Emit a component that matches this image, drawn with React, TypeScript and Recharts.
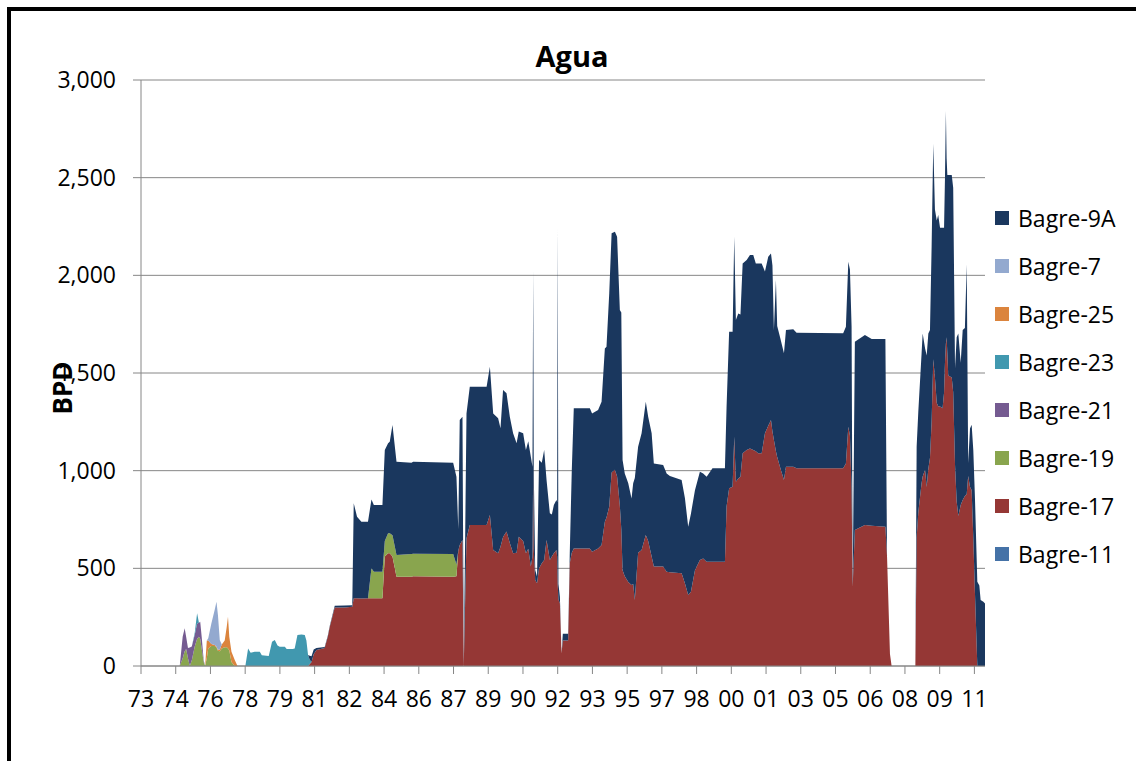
import React from 'react';
import { AreaChart, Area, XAxis, YAxis, CartesianGrid } from 'recharts';

// x values are months counted from Jan 1973 as [month, BPD]
const bagre19: [number, number][] = [
  [21.2, 0], [22.8, 40], [23.9, 75], [24.7, 87], [25.7, 40], [26.7, 0], [27.8, 30], [29.4, 100],
  [30.7, 140], [31.7, 150], [32.4, 140], [33.2, 90], [34.3, 20], [35.1, 0], [36.0, 40], [36.8, 90],
  [38.5, 102], [40.3, 102], [41.3, 95], [42.1, 78], [43.1, 75], [44.2, 90], [45.8, 96], [46.9, 96],
  [47.6, 90], [48.3, 80], [49.5, 20], [51.3, 0], [52.8, 0],
  [124.2, 0], [126.1, 153], [127.4, 136], [132.1, 136], [133.4, 80], [135.2, 102], [136.1, 102],
  [137.6, 110], [139.8, 111], [148.0, 116], [148.9, 115], [170.8, 116], [172.6, 60], [173.6, 0],
];

const bagre21: [number, number][] = [
  [21.2, 0], [22.8, 110], [23.9, 118], [24.7, 63], [25.7, 52], [26.7, 95], [27.8, 70], [29.4, 60],
  [30.7, 78], [31.7, 72], [32.4, 87], [33.2, 60], [34.3, 10], [35.1, 0],
];

const bagre23: [number, number][] = [
  [27.8, 0], [29.4, 10], [30.7, 52], [31.7, 0],
  [57.1, 0], [58.6, 90], [60.0, 68], [62.2, 73], [65.0, 73], [66.1, 55], [69.9, 51], [71.7, 124],
  [73.2, 133], [74.7, 105], [75.9, 99], [78.7, 99], [79.7, 87], [83.0, 87], [84.1, 90], [85.6, 159],
  [87.8, 161], [89.6, 159], [90.5, 130], [91.4, 56], [92.3, 22], [93.3, 0],
];

const bagre25: [number, number][] = [
  [35.1, 0], [36.0, 90], [36.8, 40], [38.5, 10], [40.3, 5], [41.3, 5], [42.1, 5], [43.1, 10],
  [44.2, 20], [45.8, 34], [46.9, 104], [47.6, 162], [48.3, 70], [49.5, 53], [51.3, 31], [52.8, 0],
];

const bagre7: [number, number][] = [
  [36.0, 0], [36.8, 12], [38.5, 106], [40.3, 180], [41.3, 229], [42.1, 178], [43.1, 48], [44.2, 0],
];

const bagre17: [number, number][] = [
  [91.4, 0], [92.3, 10], [93.3, 20], [94.5, 60], [96.0, 82], [100.5, 92], [102.2, 150], [103.3, 201],
  [106.0, 300], [111.5, 300], [115.6, 303], [116.4, 347], [118.2, 347], [120.6, 345], [124.2, 347],
  [126.1, 347], [127.4, 347], [132.1, 347], [133.4, 560], [135.2, 577], [136.1, 577], [137.6, 560],
  [139.8, 457], [148.0, 457], [148.9, 460], [170.8, 457], [172.6, 460], [173.6, 590], [174.4, 620],
  [175.9, 645], [176.6, 0], [178.1, 654], [179.9, 722], [189.1, 722], [190.9, 773], [192.7, 594],
  [195.4, 577], [196.7, 610], [198.1, 660], [200.0, 688], [201.8, 630], [203.6, 577], [205.5, 580],
  [206.7, 662], [209.1, 640], [210.6, 577], [211.9, 600], [213.3, 509], [214.2, 560], [214.6, 1020],
  [214.9, 600], [215.7, 440], [216.7, 423], [217.8, 500], [219.3, 526], [220.6, 543], [221.9, 645],
  [223.7, 543], [224.8, 560], [225.9, 577], [227.3, 594], [227.7, 560], [228.0, 420], [228.4, 340],
  [229.2, 321], [230.1, 65], [230.8, 130], [233.7, 130], [234.1, 300], [234.6, 526], [235.7, 580],
  [236.8, 602], [245.6, 602], [246.8, 585], [250.1, 602], [252.0, 620], [253.8, 739], [254.7, 760],
  [256.2, 816], [257.5, 990], [259.3, 1005], [260.5, 970], [262.0, 820], [262.8, 700], [263.5, 490],
  [264.7, 460], [266.6, 430], [268.4, 415], [269.3, 420], [270.2, 338], [272.0, 580], [273.9, 594],
  [276.2, 671], [277.5, 640], [279.4, 560], [280.6, 509], [285.7, 509], [287.6, 483], [289.4, 480],
  [295.8, 475], [297.6, 423], [299.4, 363], [300.9, 380], [303.1, 490], [305.8, 543], [307.6, 550],
  [309.5, 534], [312.7, 534], [319.5, 534], [320.4, 816], [321.8, 910], [323.7, 918], [324.6, 1174],
  [325.5, 943], [326.8, 960], [328.0, 969], [329.2, 1089], [331.4, 1106], [333.2, 1114], [335.0, 1106],
  [336.4, 1100], [337.7, 1089], [339.6, 1089], [341.4, 1191], [343.2, 1230], [344.7, 1259],
  [345.5, 1200], [346.3, 1157], [347.4, 1100], [348.1, 1070], [349.6, 1020], [351.8, 952],
  [352.9, 1020], [356.9, 1020], [358.7, 1012], [384.2, 1012], [385.7, 1037], [387.0, 1225],
  [387.9, 1180], [388.8, 900], [389.4, 406], [390.6, 696], [396.1, 722], [399.8, 718], [407.3, 713],
  [408.2, 560], [409.8, 61], [410.7, 0], [423.7, 0], [424.4, 655], [425.3, 786], [427.1, 936],
  [427.7, 970], [429.0, 1005], [429.9, 917], [430.8, 1010], [431.7, 1066], [432.6, 1253],
  [433.5, 1571], [434.4, 1477], [435.4, 1347], [436.2, 1330], [437.2, 1328], [438.6, 1319],
  [439.4, 1400], [439.9, 1552], [440.4, 1650], [440.8, 1683], [441.2, 1600], [441.7, 1487],
  [443.6, 1477], [444.4, 1403], [445.4, 1029], [446.3, 842], [447.2, 768], [448.5, 824], [449.6, 850],
  [450.8, 870], [451.8, 880], [452.6, 973], [453.6, 917], [454.5, 900], [455.4, 655], [456.3, 375],
  [457.6, 0], [458.7, 0], [459.4, 0], [460.9, 0], [461.8, 0],
];

const bagre9A: [number, number][] = [
  [91.4, 0], [92.3, 20], [93.3, 30], [94.5, 25], [96.0, 10], [100.5, 5], [102.2, 5], [103.3, 5],
  [106.0, 8], [111.5, 10], [115.6, 8], [116.4, 486], [118.2, 417], [120.6, 394], [124.2, 392],
  [126.1, 353], [127.4, 341], [132.1, 341], [133.4, 466], [135.2, 461], [136.1, 469], [137.6, 564],
  [139.8, 478], [148.0, 468], [148.9, 471], [170.8, 468], [172.6, 449], [173.6, 110], [174.4, 639],
  [175.9, 631], [176.6, 0], [178.1, 639], [179.9, 708], [189.1, 708], [190.9, 759], [192.7, 699],
  [195.4, 691], [196.7, 607], [198.1, 753], [200.0, 708], [201.8, 646], [203.6, 614], [205.5, 560],
  [206.7, 538], [209.1, 551], [210.6, 529], [211.9, 550], [213.3, 562], [214.2, 460], [214.6, 1007],
  [214.9, 400], [215.7, 51], [216.7, 34], [217.8, 554], [219.3, 514], [220.6, 563], [221.9, 307],
  [223.7, 239], [224.8, 215], [225.9, 247], [227.3, 256], [227.7, 280], [228.0, 1820], [228.4, 80],
  [229.2, 34], [230.1, 0], [230.8, 35], [233.7, 35], [234.1, 30], [234.6, 51], [235.7, 420],
  [236.8, 717], [245.6, 717], [246.8, 708], [250.1, 708], [252.0, 733], [253.8, 887], [254.7, 875],
  [256.2, 1092], [257.5, 1225], [259.3, 1218], [260.5, 1228], [262.0, 1002], [262.8, 1110],
  [263.5, 564], [264.7, 526], [266.6, 505], [268.4, 443], [269.3, 515], [270.2, 624], [272.0, 543],
  [273.9, 597], [276.2, 682], [277.5, 636], [279.4, 631], [280.6, 528], [285.7, 520], [287.6, 503],
  [289.4, 493], [295.8, 477], [297.6, 437], [299.4, 350], [300.9, 400], [303.1, 410], [305.8, 452],
  [307.6, 436], [309.5, 435], [312.7, 478], [319.5, 478], [320.4, 511], [321.8, 801], [323.7, 793],
  [324.6, 1024], [325.5, 828], [326.8, 845], [328.0, 831], [329.2, 972], [331.4, 972], [333.2, 990],
  [335.0, 998], [336.4, 961], [337.7, 972], [339.6, 972], [341.4, 828], [343.2, 865], [344.7, 853],
  [345.5, 850], [346.3, 563], [347.4, 876], [348.1, 670], [349.6, 666], [351.8, 649], [352.9, 700],
  [356.9, 704], [358.7, 694], [384.2, 691], [385.7, 700], [387.0, 845], [387.9, 850], [388.8, 837],
  [389.4, 0], [390.6, 964], [396.1, 972], [399.8, 956], [407.3, 961], [408.2, 0], [409.8, 0],
  [410.7, 0], [423.7, 0], [424.4, 468], [425.3, 514], [427.1, 664], [427.7, 732], [429.0, 622],
  [429.9, 672], [430.8, 692], [431.7, 654], [432.6, 897], [433.5, 1102], [434.4, 860], [435.4, 934],
  [436.2, 979], [437.2, 916], [438.6, 925], [439.4, 844], [439.9, 948], [440.4, 1191], [440.8, 917],
  [441.2, 914], [441.7, 1027], [443.6, 1037], [444.4, 1046], [445.4, 495], [446.3, 841], [447.2, 934],
  [448.5, 728], [449.6, 870], [450.8, 860], [451.8, 1177], [452.6, 67], [453.6, 299], [454.5, 335],
  [455.4, 449], [456.3, 486], [457.6, 431], [458.7, 412], [459.4, 338], [460.9, 329], [461.8, 320],
];

const tickMonths = [0, 19, 38, 57, 76, 95, 114, 133, 152, 171, 190, 209, 228, 247, 266, 285, 304, 323, 342, 361, 380, 399, 418, 437, 456];
const tickLabels = ['73', '74', '76', '78', '79', '81', '82', '84', '86', '87', '89', '90', '92', '93', '95', '97', '98', '00', '01', '03', '05', '06', '08', '09', '11'];
const yTicks = [0, 500, 1000, 1500, 2000, 2500, 3000];

// stack order, bottom first
const SERIES = [
  { key: 'b11', name: 'Bagre-11', color: '#4572A7', points: [] as [number, number][] },
  { key: 'b17', name: 'Bagre-17', color: '#953735', points: bagre17 },
  { key: 'b19', name: 'Bagre-19', color: '#89A54E', points: bagre19 },
  { key: 'b21', name: 'Bagre-21', color: '#755B91', points: bagre21 },
  { key: 'b23', name: 'Bagre-23', color: '#4198AF', points: bagre23 },
  { key: 'b25', name: 'Bagre-25', color: '#DB843D', points: bagre25 },
  { key: 'b7', name: 'Bagre-7', color: '#93A9CF', points: bagre7 },
  { key: 'b9a', name: 'Bagre-9A', color: '#1A375E', points: bagre9A },
];

const months = Array.from(new Set(SERIES.flatMap(s => s.points.map(p => p[0])))).sort((a, b) => a - b);
const chartData = months.map(m => {
  const row: Record<string, number> = { m };
  SERIES.forEach(s => {
    const p = s.points.find(q => q[0] === m);
    row[s.key] = p ? p[1] : 0;
  });
  return row;
});

const FONT = '"Open Sans", sans-serif';
const AXIS = '#868686';

export default function App() {
  const tick = { fill: '#000', fontSize: 23, fontFamily: FONT };

  return (
    <div style={{ position: 'absolute', left: 0, top: 0, width: 1136, height: 761, overflow: 'hidden', background: '#fff' }}>
      <div style={{ position: 'absolute', left: 7, top: 7, width: 1200, height: 800, border: '4px solid #000' }} />

      <div style={{ position: 'absolute', left: 472, top: 41, width: 200, textAlign: 'center', fontFamily: FONT, fontWeight: 700, fontSize: 29, lineHeight: '29px' }}>
        Agua
      </div>

      <div style={{ position: 'absolute', left: 0, top: 0 }}>
        <AreaChart width={1136} height={761} data={chartData} margin={{ top: 80, right: 151, bottom: 55, left: 41 }}>
          <CartesianGrid vertical={false} stroke={AXIS} />
          <XAxis
            dataKey="m"
            type="number"
            domain={[0, 461.8]}
            ticks={tickMonths}
            interval={0}
            tickFormatter={(v: number) => tickLabels[tickMonths.indexOf(v)]}
            height={40}
            tickSize={8}
            tickMargin={17}
            stroke={AXIS}
            tick={tick}
          />
          <YAxis
            type="number"
            domain={[0, 3000]}
            ticks={yTicks}
            interval={0}
            tickFormatter={(v: number) => v.toLocaleString('en-US')}
            width={100}
            tickSize={8}
            tickMargin={17}
            stroke={AXIS}
            tick={tick}
            label={{
              content: (props: any) => {
                const vb = props.viewBox;
                const cx = vb.x + 21;
                const cy = vb.y + vb.height / 2 + 15;
                return (
                  <text x={cx} y={cy} transform={`rotate(-90 ${cx} ${cy})`} textAnchor="middle" dominantBaseline="central"
                    fontFamily={FONT} fontWeight={700} fontSize={26} fill="#000">
                    BPD
                  </text>
                );
              },
            }}
          />
          {SERIES.filter(s => s.points.length > 0).map(s => (
            <Area
              key={s.key}
              type="linear"
              dataKey={s.key}
              name={s.name}
              stackId="1"
              stroke="none"
              fill={s.color}
              fillOpacity={1}
              dot={false}
              activeDot={false}
              isAnimationActive={false}
            />
          ))}
        </AreaChart>
      </div>

      {/* legend, listed top of stack first like Excel does */}
      <div style={{ position: 'absolute', left: 995, top: 194, fontFamily: FONT, fontSize: 23 }}>
        {[...SERIES].reverse().map(s => (
          <div key={s.key} style={{ height: 48, display: 'flex', alignItems: 'center' }}>
            <span style={{ width: 14, height: 14, background: s.color, marginRight: 9, display: 'inline-block' }} />
            <span style={{ lineHeight: 1 }}>{s.name}</span>
          </div>
        ))}
      </div>
    </div>
  );
}
